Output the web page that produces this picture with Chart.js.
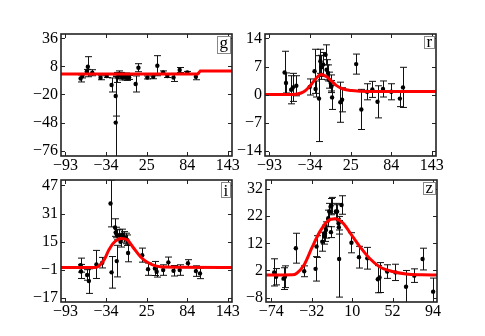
<!DOCTYPE html>
<html>
<head>
<meta charset="utf-8">
<script src="https://cdn.jsdelivr.net/npm/chart.js@4.4.1/dist/chart.umd.min.js"></script>
<style>
  body { margin: 0; background: #fff; }
  #fig { position: relative; width: 485px; height: 336px; overflow: hidden; background: #fff; }
  #fig canvas { position: absolute; }
</style>
</head>
<body>
<div id="fig">
  <canvas id="cg"></canvas>
  <canvas id="cr"></canvas>
  <canvas id="ci"></canvas>
  <canvas id="cz"></canvas>
</div>
<script>
// tick labels
const topXTicks = [-93, -34, 25, 84, 143];
const zXTicks = [-74, -32, 10, 52, 94];
const gYTicks = [-76, -48, -20, 8, 36];
const rYTicks = [-14, -7, 0, 7, 14];
const iYTicks = [-17, -1, 15, 31, 47];
const zYTicks = [-8, 2, 12, 22, 32];

// g band
const gX = [-71, -68.5, -62, -60.5, -54, -42, -33, -26, -20, -20, -17.5, -15, -13, -10.5, -7, -5.5, -3, -0.5, 9, 13, 26, 34.5, 40.5, 49, 55, 64, 73, 84, 96.5];
const gY = [-4, -1.5, 3, 7.7, 1.7, -3.3, -1.6, -10.5, -21.5, -48, -3, 0.5, -1, -3, -2.5, -0.6, -3, -3, -9.5, 6.7, -3, -2.3, 8.7, 2, -1.6, -3, 4.4, 2, -2.3];
const gErr = [3.5, 2, 2, 10, 3, 2, 1.5, 7, 20, 46, 5, 3, 3, 2.5, 3, 2, 3, 2, 8, 4, 1.5, 2, 10, 1.5, 1.5, 4, 2.5, 1, 3];
const gFitX = [-99.5, 99, 103, 149];
const gFitY = [0.4, 0.4, 3.4, 3.4];

// r band
const rX = [-71, -69, -61.5, -59, -54, -34.5, -27.5, -26, -21, -19, -17.5, -15, -11.5, -10, -8, -6, -4, -3, -2, 10, 12.5, 33, 40.5, 49, 56.5, 64, 72, 84, 96.5, 101];
const rY = [5.5, 2.9, 1.2, 1.8, 2.2, 1.9, 5.8, 1.4, -1, 8.3, 6.8, 7.5, 9.9, 6.2, 5.4, 3.6, 2.9, 2, -0.7, -1.9, -1.3, 7.6, -3.7, 0.7, 1.3, -1.8, 1.4, 0.7, -1, 1.8];
const rErr = [5.3, 2.5, 3.5, 3.5, 2.5, 2, 5.5, 2, 10.7, 3, 3, 3, 2.5, 2.5, 2, 2, 2, 1.5, 3, 5, 3, 2.5, 5, 2, 2, 4, 2, 2, 2, 5];
const rFitX = [-99.5, -59, -47, -39.5, -32, -25, -18, -10.5, -3, 4, 14, 26, 40, 60, 149];
const rFitY = [0, 0, 0.4, 1.2, 2.6, 4.1, 5.0, 4.5, 3.4, 2.3, 1.4, 1.0, 0.85, 0.8, 0.8];

// i band
const iX = [-71, -70.5, -61.5, -59, -48, -39.5, -27.5, -26, -21, -20, -18.5, -18.5, -14.5, -13, -10.5, -8, -5.5, -3, -2, 18.5, 27, 37, 39.5, 49, 56.5, 64, 73, 85, 96.5, 102.5];
const iY = [1.6, -2, -4, -7.5, 2, 3, 36.7, -2.5, 23, 20.2, 19, 3.9, 18.7, 14.9, 19.1, 17.7, 16.8, 15.8, 8.5, 7.3, -0.7, -0.3, -2.2, -1.2, 3.2, -1.6, -1.2, 2.7, -1.8, -3.1];
const iErr = [4, 4, 3, 7, 8, 3, 13.3, 9, 5, 3, 3, 9, 3, 3, 3, 3, 3, 3, 5, 4, 3.5, 4, 3, 3, 3, 3, 3, 2, 3, 3];
const iFitX = [-99.5, -50, -44, -37, -30, -22.5, -12, -3, 6.5, 16, 26, 38, 55, 149];
const iFitY = [0.3, 0.3, 1.2, 4.5, 10.2, 14.5, 16.8, 15.9, 11.1, 6.4, 3.2, 1.2, 0.5, 0.3];

// z band
const zX = [-71, -69, -61.3, -59.8, -48.5, -39.8, -28, -27, -21, -19, -18.3, -17.2, -14.8, -13.8, -12.4, -11.4, -12, -6.9, -5.6, -4.1, -3.8, -3.5, -1, 9.3, 17.1, 25.8, 36.7, 38.5, 46.4, 55, 66, 74.6, 83.2, 94.2];
const zY = [1.3, -0.3, -1, -0.3, 10.2, 1.7, 2.6, 10.8, 12.6, 14.7, 15.7, 16.9, 21.2, 23.7, 25.5, 25.9, 16.1, 23.7, 23.7, 19.4, 17.9, 6.2, 26.1, 12.2, 6.9, 6.5, -1.2, -0.6, 1.6, 1.3, -4, 0.1, 6.2, -5.8];
const zErr = [5, 3, 4, 4, 5.5, 2, 4.5, 4, 3.5, 3, 3, 3, 3, 3, 3, 3, 2, 3, 2.5, 2.5, 2.5, 14, 3.4, 3.7, 4, 4, 5, 5.5, 2.5, 3, 6, 2.5, 4, 5];
const zFitX = [-79.5, -52, -47.5, -40, -32, -23.5, -16, -8, 0.5, 9.3, 18, 28, 38.5, 52, 66, 83, 98.2];
const zFitY = [0.3, 0.4, 1, 4, 10.2, 16.3, 20, 21, 19.4, 15.1, 10.8, 6.5, 3.4, 1.6, 0.7, 0.4, 0.3];

const tickFont = { family: "'Liberation Serif', 'Times New Roman', serif", size: 16 };
const fmt = v => (v < 0 ? "\u2212" + Math.abs(v) : String(v));

const errorBars = {
  id: "errorBars",
  beforeDatasetsDraw(chart) {
    const ctx = chart.ctx, a = chart.chartArea;
    const xs = chart.scales.x, ys = chart.scales.y;
    ctx.save();
    ctx.beginPath();
    ctx.rect(a.left, a.top, a.right - a.left, a.bottom - a.top);
    ctx.clip();
    ctx.strokeStyle = "#111";
    ctx.lineWidth = 1;
    chart.data.datasets.forEach(ds => {
      if (!ds.errors) return;
      ds.data.forEach((p, i) => {
        const e = ds.errors[i];
        const x = Math.round(xs.getPixelForValue(p.x)) + 0.5;
        const y1 = ys.getPixelForValue(p.y - e), y2 = ys.getPixelForValue(p.y + e);
        ctx.beginPath();
        ctx.moveTo(x, y1); ctx.lineTo(x, y2);
        ctx.moveTo(x - 3.5, y1); ctx.lineTo(x + 3.5, y1);
        ctx.moveTo(x - 3.5, y2); ctx.lineTo(x + 3.5, y2);
        ctx.stroke();
      });
    });
    ctx.restore();
  }
};

const frame = {
  id: "frame",
  afterDraw(chart, args, opts) {
    const ctx = chart.ctx, a = chart.chartArea;
    const xs = chart.scales.x, ys = chart.scales.y;
    ctx.save();
    ctx.strokeStyle = "#222";
    ctx.lineWidth = 1;
    ctx.beginPath();
    xs.ticks.forEach(t => {
      const x = Math.round(xs.getPixelForValue(t.value)) + 0.5;
      ctx.moveTo(x, a.bottom); ctx.lineTo(x, a.bottom - 4);
      ctx.moveTo(x, a.top); ctx.lineTo(x, a.top + 4);
    });
    ys.ticks.forEach(t => {
      const y = Math.round(ys.getPixelForValue(t.value)) + 0.5;
      ctx.moveTo(a.left, y); ctx.lineTo(a.left + 4, y);
      ctx.moveTo(a.right, y); ctx.lineTo(a.right - 4, y);
    });
    ctx.stroke();
    ctx.lineWidth = 1.6;
    ctx.strokeRect(a.left, a.top, a.right - a.left, a.bottom - a.top);

    // band letter in a box
    ctx.font = "17px 'Liberation Serif', serif";
    const m = ctx.measureText(opts.letter);
    const bw = Math.round(m.actualBoundingBoxRight + m.actualBoundingBoxLeft) + 4;
    const bh = Math.round(m.actualBoundingBoxAscent + m.actualBoundingBoxDescent) + 4;
    const bx = a.right - bw - 2, by = a.top + 2;
    ctx.fillStyle = "#fff";
    ctx.fillRect(bx, by, bw, bh);
    ctx.strokeStyle = "#888";
    ctx.lineWidth = 1;
    ctx.strokeRect(bx + 0.5, by + 0.5, bw, bh);
    ctx.fillStyle = "#000";
    ctx.textBaseline = "alphabetic";
    ctx.fillText(opts.letter, bx + 2 + m.actualBoundingBoxLeft + 0.5, by + 2 + m.actualBoundingBoxAscent + 0.5);
    ctx.restore();
  }
};

function panel(id, area, xr, yr, xTicks, yTicks, xs, ys, errs, fx, fy, letter, smooth) {
  const cv = document.getElementById(id);
  const left = area.l - 61, top = area.t - 14;
  const w = area.r - left + 16, h = area.b - top + 26;
  cv.width = w; cv.height = h;
  cv.style.left = left + "px"; cv.style.top = top + "px";
  cv.style.width = w + "px"; cv.style.height = h + "px";

  const pts = xs.map((x, i) => ({ x: x, y: ys[i] }));
  const fit = fx.map((x, i) => ({ x: x, y: fy[i] }));

  return new Chart(cv.getContext("2d"), {
    type: "scatter",
    data: {
      datasets: [
        {
          type: "line",
          data: fit,
          borderColor: "#ff0000",
          borderWidth: 3,
          pointRadius: 0,
          fill: false,
          tension: 0,
          cubicInterpolationMode: smooth ? "monotone" : "default",
        },
        {
          data: pts,
          errors: errs,
          pointRadius: 2.2,
          pointBackgroundColor: "#000",
          pointBorderWidth: 0,
        },
      ],
    },
    options: {
      responsive: false,
      animation: false,
      layout: { padding: { left: 0, top: 14, right: 16, bottom: 0 } },
      plugins: { legend: { display: false }, tooltip: { enabled: false }, frame: { letter: letter } },
      scales: {
        x: {
          type: "linear",
          min: xr[0], max: xr[1],
          grid: { display: false, drawTicks: false },
          border: { display: false },
          ticks: { font: tickFont, color: "#000", padding: 0, autoSkip: false, maxRotation: 0, callback: fmt },
          afterBuildTicks: s => { s.ticks = xTicks.map(v => ({ value: v })); },
          afterFit: s => { s.height = 26; },
        },
        y: {
          min: yr[0], max: yr[1],
          grid: { display: false, drawTicks: false },
          border: { display: false },
          ticks: { font: tickFont, color: "#000", padding: 3, autoSkip: false, callback: fmt },
          afterBuildTicks: s => { s.ticks = yTicks.map(v => ({ value: v })); },
          afterFit: s => { s.width = 61; },
        },
      },
    },
    plugins: [errorBars, frame],
  });
}

panel("cg", { l: 61, t: 34, r: 232, b: 156 }, [-99.5, 149], [-81.3, 40.3], topXTicks, gYTicks, gX, gY, gErr, gFitX, gFitY, "g", false);
panel("cr", { l: 265, t: 34, r: 436, b: 156 }, [-99.5, 149], [-15.3, 15.1], topXTicks, rYTicks, rX, rY, rErr, rFitX, rFitY, "r", true);
panel("ci", { l: 61, t: 180, r: 232, b: 302 }, [-99.5, 149], [-19.4, 50.1], topXTicks, iYTicks, iX, iY, iErr, iFitX, iFitY, "i", true);
panel("cz", { l: 266, t: 180, r: 437, b: 302 }, [-79.5, 98.2], [-9.6, 35.3], zXTicks, zYTicks, zX, zY, zErr, zFitX, zFitY, "z", true);
</script>
</body>
</html>
